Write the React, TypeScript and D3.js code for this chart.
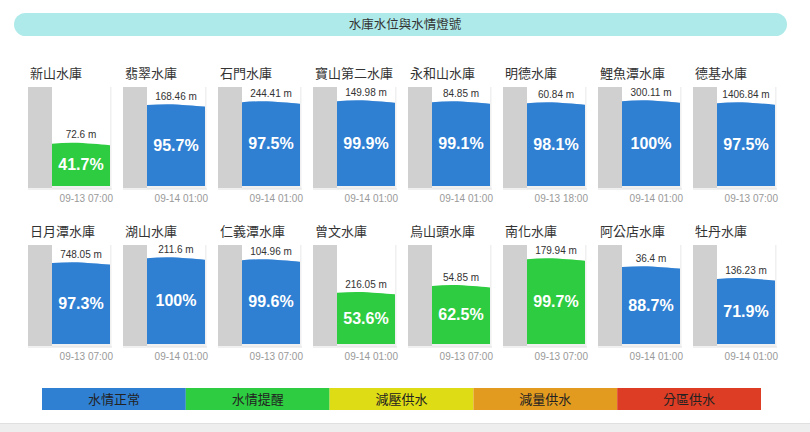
import React from "react";
import * as d3 from "d3";

const names = ["新山水庫","翡翠水庫","石門水庫","寶山第二水庫","永和山水庫","明德水庫","鯉魚潭水庫","德基水庫",
  "日月潭水庫","湖山水庫","仁義潭水庫","曾文水庫","烏山頭水庫","南化水庫","阿公店水庫","牡丹水庫"];
const levels = ["72.6 m","168.46 m","244.41 m","149.98 m","84.85 m","60.84 m","300.11 m","1406.84 m",
  "748.05 m","211.6 m","104.96 m","216.05 m","54.85 m","179.94 m","36.4 m","136.23 m"];
const percents = ["41.7%","95.7%","97.5%","99.9%","99.1%","98.1%","100%","97.5%",
  "97.3%","100%","99.6%","53.6%","62.5%","99.7%","88.7%","71.9%"];
const dates = ["09-13 07:00","09-14 01:00","09-14 01:00","09-14 01:00","09-14 01:00","09-13 18:00","09-14 01:00","09-13 07:00",
  "09-13 07:00","09-14 01:00","09-13 07:00","09-14 01:00","09-13 07:00","09-13 07:00","09-14 01:00","09-14 01:00"];
// visual fill ratio of tank height
const fillRatio = [0.43,0.82,0.85,0.86,0.85,0.84,0.86,0.84,
  0.82,0.87,0.85,0.52,0.59,0.86,0.78,0.66];
const status = ["warn","normal","normal","normal","normal","normal","normal","normal",
  "normal","normal","normal","warn","warn","warn","normal","normal"];

const legendLabels = ["水情正常","水情提醒","減壓供水","減量供水","分區供水"];
const legendColors = ["#2f7fd3","#2ecc40","#dedc14","#e39b1f","#dd3d24"];
const statusColor: Record<string,string> = { normal: "#2f7fd3", warn: "#2ecc40" };

const W = 810, H = 432;
const CJK = "'Noto Sans CJK TC', 'Noto Sans', sans-serif";
const LAT = "'Liberation Sans', Arial, sans-serif";

export default function App() {
  const colX = d3.scaleLinear().domain([0, 7]).range([28, 28 + 95 * 7]);
  const rowTop = [87, 245];
  const tankH = 99;
  const grayW = 24, fillW = 58;
  const legendX = d3.scaleBand().domain(legendLabels).range([42, 761]).padding(0);

  return (
    <svg width={W} height={H} style={{ position: "fixed", left: 0, top: 0, background: "#fff" }}>
      <rect x={14} y={13} width={773} height={23} rx={11.5} fill="#aeeaea" />
      <text x={405} y={29} textAnchor="middle" fontFamily={CJK} fontSize={12.5} fill="#333">水庫水位與水情燈號</text>
      {names.map((n, i) => {
        const row = Math.floor(i / 8), col = i % 8;
        const x0 = colX(col);
        const top = rowTop[row];
        const bottom = top + tankH;
        const y = d3.scaleLinear().domain([0, 1]).range([bottom, top]);
        const fx0 = x0 + grayW, fx1 = fx0 + fillW;
        const ft = y(fillRatio[i]);
        const area = d3.area<[number, number]>()
          .x(d => d[0]).y0(bottom).y1(d => d[1]).curve(d3.curveNatural);
        const pts: [number, number][] = [[fx0, ft + 0.3], [fx0 + fillW * 0.35, ft - 0.6], [fx0 + fillW * 0.7, ft + 0.4], [fx1, ft + 1.8]];
        return (
          <g key={n}>
            <text x={x0 + 2} y={top - 9} fontFamily={CJK} fontSize={13} fill="#333">{n}</text>
            <rect x={x0 + grayW} y={top} width={fillW + 1.5} height={tankH + 3} fill="#f0f0f0" />
            <rect x={x0 + grayW} y={top} width={fillW} height={tankH} fill="#fff" />
            <rect x={x0} y={top} width={grayW} height={tankH + 2} fill="#d0d0d0" />
            <line x1={x0} x2={fx1 + 2} y1={bottom + 3} y2={bottom + 3} stroke="#e2e2e2" strokeWidth={1} />
            <path d={area(pts) || ""} fill={statusColor[status[i]]} />
            <text x={(fx0 + fx1) / 2} y={ft - 5} textAnchor="middle" fontFamily={LAT} fontSize={10} fill="#333">{levels[i]}</text>
            <text x={(fx0 + fx1) / 2} y={(ft + bottom) / 2 + 5.5} textAnchor="middle" fontFamily={LAT} fontWeight="bold" fontSize={16} fill="#fff">{percents[i]}</text>
            <text x={fx1 + 3} y={bottom + 16} textAnchor="end" fontFamily={LAT} fontSize={10} fill="#999">{dates[i]}</text>
          </g>
        );
      })}
      {legendLabels.map((l, i) => (
        <g key={l}>
          <rect x={legendX(l)!} y={388} width={legendX.bandwidth()} height={22} fill={legendColors[i]} />
          <text x={legendX(l)! + legendX.bandwidth() / 2} y={404} textAnchor="middle" fontFamily={CJK} fontSize={13} fill="#222">{l}</text>
        </g>
      ))}
      <rect x={0} y={424} width={W} height={8} fill="#eeeeee" />
      <line x1={0} x2={W} y1={423.5} y2={423.5} stroke="#e0e0e0" />
    </svg>
  );
}
